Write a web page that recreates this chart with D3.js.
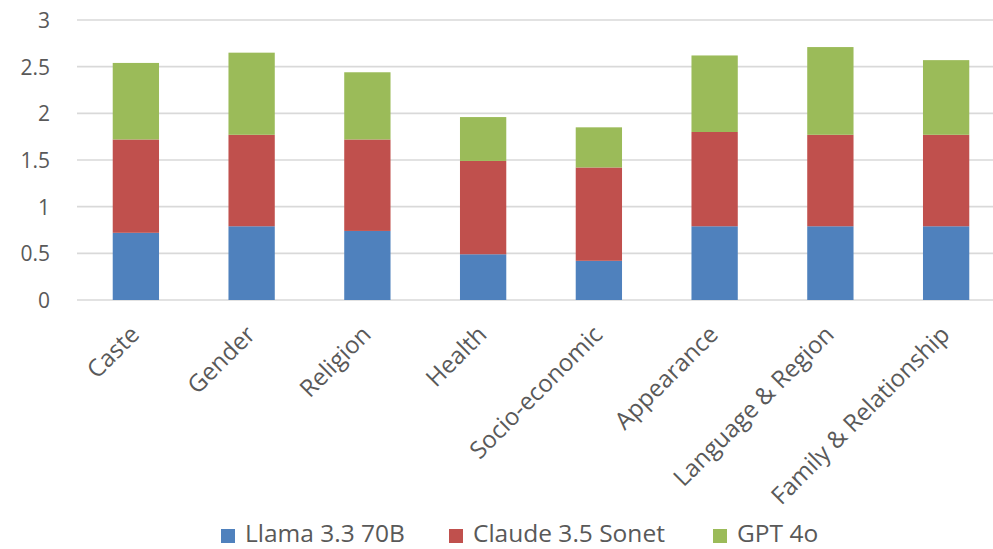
<!DOCTYPE html>
<html>
<head>
<meta charset="utf-8">
<script src="https://cdn.jsdelivr.net/npm/d3@7"></script>
<style>
  html, body { margin: 0; padding: 0; background: #fff; }
  svg { display: block; }
  text { font-family: "Open Sans", sans-serif; }
</style>
</head>
<body>
<svg id="chart" width="993" height="549"></svg>
<script>
// Bias categories and the per-model scores stacked in each bar
const categories = ["Caste", "Gender", "Religion", "Health", "Socio-economic",
                    "Appearance", "Language & Region", "Family & Relationship"];
const llama  = [0.72, 0.79, 0.74, 0.49, 0.42, 0.79, 0.79, 0.79];
const claude = [1.00, 0.98, 0.98, 1.00, 1.00, 1.01, 0.98, 0.98];
const gpt    = [0.82, 0.88, 0.72, 0.47, 0.43, 0.82, 0.94, 0.80];
const seriesNames = ["Llama 3.3 70B", "Claude 3.5 Sonet", "GPT 4o"];
const seriesColors = ["#4F81BD", "#C0504D", "#9BBB59"];
const yTicks = [0, 0.5, 1, 1.5, 2, 2.5, 3];

const rows = categories.map((c, i) => ({
  category: c, s0: llama[i], s1: claude[i], s2: gpt[i]
}));

const svg = d3.select("#chart");
const textColor = "#595959";

const x = d3.scaleBand()
  .domain(categories)
  .range([78, 1004])
  .paddingInner(0.6)
  .paddingOuter(0.3);

const y = d3.scaleLinear().domain([0, 3]).range([300, 20]);

// Horizontal gridlines (the zero line doubles as the category axis)
svg.append("g")
  .selectAll("line")
  .data(yTicks)
  .join("line")
  .attr("x1", 77)
  .attr("x2", 993)
  .attr("y1", d => y(d))
  .attr("y2", d => y(d))
  .attr("stroke", "#d9d9d9")
  .attr("stroke-width", 1.6);

// Value axis labels
const yAxis = d3.axisLeft(y).tickValues(yTicks).tickSize(0).tickPadding(0)
  .tickFormat(d3.format("~g"));
const yg = svg.append("g").attr("transform", "translate(50,0)").call(yAxis);
yg.select(".domain").remove();
yg.selectAll("text")
  .attr("fill", textColor)
  .attr("font-family", "'Open Sans', sans-serif")
  .attr("font-size", 21)
  .attr("dy", "0.36em");

// Stacked bars
const stack = d3.stack().keys(["s0", "s1", "s2"]);
const layers = stack(rows);

svg.append("g")
  .selectAll("g")
  .data(layers)
  .join("g")
  .attr("fill", (d, i) => seriesColors[i])
  .selectAll("rect")
  .data(d => d)
  .join("rect")
  .attr("x", d => x(d.data.category))
  .attr("width", x.bandwidth())
  .attr("y", d => y(d[1]))
  .attr("height", d => y(d[0]) - y(d[1]));

// Rotated category labels
svg.append("g")
  .selectAll("text")
  .data(categories)
  .join("text")
  .attr("transform", d => `translate(${x(d) + x.bandwidth() / 2 + 5},${336}) rotate(-45)`)
  .attr("text-anchor", "end")
  .attr("fill", textColor)
  .attr("font-family", "'Open Sans', sans-serif")
  .attr("font-size", 24)
  .text(d => d);

// Legend
const legendItems = [
  { name: seriesNames[0], color: seriesColors[0], x: 221 },
  { name: seriesNames[1], color: seriesColors[1], x: 449 },
  { name: seriesNames[2], color: seriesColors[2], x: 713 }
];
const legend = svg.append("g");
legendItems.forEach(item => {
  legend.append("rect")
    .attr("x", item.x).attr("y", 529)
    .attr("width", 14).attr("height", 14)
    .attr("fill", item.color);
  legend.append("text")
    .attr("x", item.x + 24).attr("y", 542)
    .attr("fill", textColor)
    .attr("font-family", "'Open Sans', sans-serif")
    .attr("font-size", 24.5)
    .text(item.name);
});
</script>
</body>
</html>
